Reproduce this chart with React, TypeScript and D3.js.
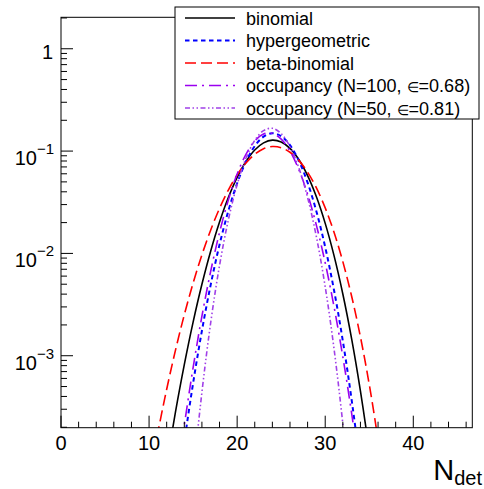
import React from "react";
import * as d3 from "d3";

// N_det values at which each curve is sampled
const nDet = [9, 10, 11, 12, 13, 14, 15, 16, 17, 18, 19, 20, 21, 22, 23, 24, 25, 26, 27, 28, 29, 30, 31, 32, 33, 34, 35, 36, 37, 38];

const binomial = [null, null, 2.42e-5, 8.76e-5, 2.831e-4, 8.19e-4, 2.13e-3, 4.991e-3, 0.01057, 0.02026, 0.03518, 0.05541, 0.07916, 0.10255, 0.1204, 0.1279, 0.1228, 0.1063, 0.0827, 0.0576, 0.03574, 0.01966, 9.512e-3, 4.013e-3, 1.459e-3, 4.506e-4, 1.159e-4, 2.41e-5, null, null];

const hypergeometric = [null, null, null, 6.44e-6, 3.28e-5, 1.433e-4, 5.39e-4, 1.755e-3, 4.956e-3, 0.01217, 0.026, 0.04847, 0.07881, 0.1118, 0.1384, 0.1493, 0.1401, 0.1142, 0.08065, 0.04916, 0.02573, 0.01151, 4.369e-3, 1.394e-3, 3.7e-4, 8.04e-5, 1.4e-5, null, null, null];

const betaBinomial = [1.906e-5, 6.136e-5, 1.782e-4, 4.704e-4, 1.1347e-3, 2.5136e-3, 5.1326e-3, 9.6906e-3, 0.016956, 0.027547, 0.041604, 0.058459, 0.07645, 0.093035, 0.1053, 0.11071, 0.10797, 0.097455, 0.081184, 0.062191, 0.043618, 0.02785, 0.016076, 8.3163e-3, 3.8122e-3, 1.5261e-3, 5.2325e-4, 1.4954e-4, 3.4234e-5, 5.892e-6];

const occupancy100 = [null, null, null, 1.009e-5, 4.925e-5, 2.087e-4, 7.657e-4, 2.435e-3, 6.717e-3, 0.01606, 0.03326, 0.05975, 0.09303, 0.1256, 0.147, 0.1491, 0.1311, 0.09992, 0.06604, 0.03782, 0.01879, 8.085e-3, 3.019e-3, 9.756e-4, 2.737e-4, 6.65e-5, 1.4e-5, null, null, null];

const occupancy50 = [null, null, null, null, 4.74e-7, 6.89e-6, 6.6e-5, 4.39e-4, 2.113e-3, 7.616e-3, 0.02123, 0.04715, 0.08511, 0.1271, 0.1587, 0.167, 0.1483, 0.1106, 0.06881, 0.03517, 0.0145, 4.71e-3, 1.17e-3, 2.153e-4, 2.807e-5, 2.5e-6, null, null, null, null];

// legend labels: [before symbol, symbol, after symbol]
const seriesNames: [string, string, string][] = [
  ["binomial", "", ""],
  ["hypergeometric", "", ""],
  ["beta-binomial", "", ""],
  ["occupancy (N=100, ", "\u2208", "=0.68)"],
  ["occupancy (N=50, ", "\u2208", "=0.81)"],
];

const xTicks = d3.range(0, 47, 2);
const xLabels = [0, 10, 20, 30, 40];
const yDecades = [-3, -2, -1, 0];

const W = 484;
const H = 489;
const FL = 61;
const FR = 472.3;
const FT = 17.3;
const FB = 427.7;
const FONT = "'Liberation Sans', Arial, Helvetica, sans-serif";

const styles = [
  { color: "#000000", dash: "none", width: 1.6 },
  { color: "#0000ff", dash: "4.5,3.5", width: 2 },
  { color: "#ff0000", dash: "11,5", width: 1.6 },
  { color: "#9b00f0", dash: "12,5,2,5", width: 1.6 },
  { color: "#a040e8", dash: "5,2.5,1.5,2.5,1.5,2.5", width: 1.6 },
];

export default function App() {
  const x = d3.scaleLinear().domain([0, 46.7]).range([FL, FR]);
  const y = d3.scaleLog().domain([1.98e-4, 2.03]).range([FB, FT]);

  const allSeries = [binomial, hypergeometric, betaBinomial, occupancy100, occupancy50];

  const line = d3
    .line<[number, number | null]>()
    .defined((d) => d[1] !== null)
    .x((d) => x(d[0]))
    .y((d) => y(d[1] as number))
    .curve(d3.curveCatmullRom.alpha(0.5));

  const yMinor: number[] = [];
  for (let e = -4; e <= 0; e++) {
    for (let m = 2; m <= 9; m++) {
      const v = m * Math.pow(10, e);
      if (v >= 1.98e-4 && v <= 2.03) yMinor.push(v);
    }
  }

  const legendRows = [18, 40.5, 63, 85.5, 108];

  return (
    <svg
      width={W}
      height={H}
      style={{ position: "absolute", left: 0, top: 0, background: "#fff" }}
      fontFamily={FONT}
    >
      <rect x={0} y={0} width={W} height={H} fill="#fff" />
      <defs>
        <clipPath id="frameClip">
          <rect x={FL} y={FT} width={FR - FL} height={FB - FT} />
        </clipPath>
      </defs>

      {/* curves */}
      <g clipPath="url(#frameClip)">
        {allSeries.map((s, i) => (
          <path
            key={i}
            d={line(nDet.map((k, j) => [k, s[j]] as [number, number | null])) || ""}
            fill="none"
            stroke={styles[i].color}
            strokeWidth={styles[i].width}
            strokeDasharray={styles[i].dash}
          />
        ))}
      </g>

      {/* frame */}
      <rect x={FL} y={FT} width={FR - FL} height={FB - FT} fill="none" stroke="#000" strokeWidth={1} />

      {/* x ticks */}
      {xTicks.map((t) => (
        <line
          key={"xt" + t}
          x1={x(t)}
          x2={x(t)}
          y1={FB}
          y2={FB - (t % 10 === 0 ? 12 : 6)}
          stroke="#000"
          strokeWidth={1}
        />
      ))}
      {xLabels.map((t) => (
        <text key={"xl" + t} x={x(t)} y={450} fontSize={20} textAnchor="middle" fill="#000">
          {t}
        </text>
      ))}

      {/* y ticks */}
      {yDecades.map((e) => (
        <line
          key={"yd" + e}
          x1={FL}
          x2={FL + 12}
          y1={y(Math.pow(10, e))}
          y2={y(Math.pow(10, e))}
          stroke="#000"
          strokeWidth={1}
        />
      ))}
      {yMinor.map((v, i) => (
        <line key={"ym" + i} x1={FL} x2={FL + 6} y1={y(v)} y2={y(v)} stroke="#000" strokeWidth={1} />
      ))}
      {yDecades.map((e) =>
        e === 0 ? (
          <text key={"yl" + e} x={53} y={y(1) + 10} fontSize={20} textAnchor="end" fill="#000">
            1
          </text>
        ) : (
          <text key={"yl" + e} x={54} y={y(Math.pow(10, e)) + 14} fontSize={20} textAnchor="end" fill="#000">
            10
            <tspan dy={-11} fontSize={15}>
              {"\u2212" + String(-e)}
            </tspan>
          </text>
        )
      )}

      {/* axis title */}
      <text x={482} y={480} fontSize={29} textAnchor="end" fill="#000">
        N
        <tspan dy={5} fontSize={20}>
          det
        </tspan>
      </text>

      {/* legend */}
      <rect x={175} y={7} width={304} height={112} fill="#fff" stroke="#000" strokeWidth={1} />
      {seriesNames.map((name, i) => (
        <g key={"lg" + i}>
          <line
            x1={185}
            x2={235}
            y1={legendRows[i]}
            y2={legendRows[i]}
            stroke={styles[i].color}
            strokeWidth={styles[i].width}
            strokeDasharray={styles[i].dash}
          />
          <text x={246} y={legendRows[i] + 6.5} fontSize={18} fill="#000">
            {name[0]}
            {name[1] ? <tspan fontSize={14}>{name[1]}</tspan> : null}
            {name[2]}
          </text>
        </g>
      ))}
    </svg>
  );
}
